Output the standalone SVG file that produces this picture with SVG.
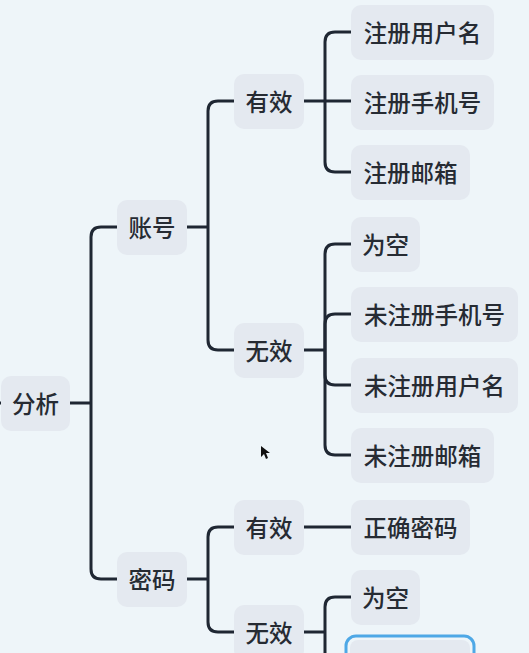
<svg xmlns="http://www.w3.org/2000/svg" width="529" height="653" viewBox="0 0 529 653">
<style>
.n rect{fill:#e4e9f0}
.n text{font-family:"Noto Sans CJK SC","Noto Sans",sans-serif;font-size:23.5px;font-weight:500;fill:#262b33;text-anchor:middle;dominant-baseline:central}
.c path{fill:none;stroke:#1f2733;stroke-width:3;stroke-linecap:butt}
</style>
<rect width="529" height="653" fill="#eef5f9"/>
<g id="connectors" class="c">
<path d="M-5,403 H1"/>
<path d="M70,403 H91"/>
<path d="M91,403 V237 Q91,227 101,227 H117"/>
<path d="M91,403 V569 Q91,579 101,579 H117"/>
<path d="M187,227 H208"/>
<path d="M208,227 V111 Q208,101 218,101 H234"/>
<path d="M208,227 V340 Q208,350 218,350 H234"/>
<path d="M304,101 H325"/>
<path d="M325,101 V42 Q325,32 335,32 H351"/>
<path d="M325,101 H351"/>
<path d="M325,101 V162 Q325,172 335,172 H351"/>
<path d="M304,350 H325"/>
<path d="M325,350 V254 Q325,244 335,244 H351"/>
<path d="M325,350 V324 Q325,314 335,314 H351"/>
<path d="M325,350 V375 Q325,385 335,385 H351"/>
<path d="M325,350 V445 Q325,455 335,455 H351"/>
<path d="M187,579 H208"/>
<path d="M208,579 V537 Q208,527 218,527 H234"/>
<path d="M208,579 V622 Q208,632 218,632 H234"/>
<path d="M304,527 H351"/>
<path d="M304,632 H325"/>
<path d="M325,632 V607 Q325,597 335,597 H351"/>
<path d="M325,632 V656 Q325,666 335,666 H349"/>
</g>
<g id="n-fenxi" class="n"><rect x="1" y="376" width="69" height="55" rx="10"/><text x="35.5" y="403">分析</text></g>
<g id="n-zhanghao" class="n"><rect x="117" y="200" width="70" height="55" rx="10"/><text x="152" y="227">账号</text></g>
<g id="n-mima" class="n"><rect x="117" y="552" width="70" height="55" rx="10"/><text x="152" y="579">密码</text></g>
<g id="n-youxiao1" class="n"><rect x="234" y="74" width="70" height="55" rx="10"/><text x="269" y="101">有效</text></g>
<g id="n-wuxiao1" class="n"><rect x="234" y="323" width="70" height="55" rx="10"/><text x="269" y="350">无效</text></g>
<g id="n-youxiao2" class="n"><rect x="234" y="500" width="70" height="55" rx="10"/><text x="269" y="527">有效</text></g>
<g id="n-wuxiao2" class="n"><rect x="234" y="605" width="70" height="55" rx="10"/><text x="269" y="632">无效</text></g>
<g id="n-zcyhm" class="n"><rect x="351" y="5" width="143" height="55" rx="10"/><text x="422.5" y="32">注册用户名</text></g>
<g id="n-zcsjh" class="n"><rect x="351" y="75" width="143" height="55" rx="10"/><text x="422.5" y="102">注册手机号</text></g>
<g id="n-zcyx" class="n"><rect x="351" y="145" width="119" height="55" rx="10"/><text x="410.5" y="172">注册邮箱</text></g>
<g id="n-wk1" class="n"><rect x="351" y="217" width="69" height="55" rx="10"/><text x="385.5" y="244">为空</text></g>
<g id="n-wzcsjh" class="n"><rect x="351" y="287" width="167" height="55" rx="10"/><text x="434.5" y="314">未注册手机号</text></g>
<g id="n-wzcyhm" class="n"><rect x="351" y="358" width="167" height="55" rx="10"/><text x="434.5" y="385">未注册用户名</text></g>
<g id="n-wzcyx" class="n"><rect x="351" y="428" width="143" height="55" rx="10"/><text x="422.5" y="455">未注册邮箱</text></g>
<g id="n-zqmm" class="n"><rect x="351" y="500" width="119" height="55" rx="10"/><text x="410.5" y="527">正确密码</text></g>
<g id="n-wk2" class="n"><rect x="351" y="570" width="69" height="55" rx="10"/><text x="385.5" y="597">为空</text></g>
<g id="n-selected" class="n"><rect x="346" y="636" width="128" height="60" rx="10" fill="none" stroke="#4ea8e6" stroke-width="3" style="fill:none"/><rect x="350" y="640" width="120" height="52" rx="8"/></g>
<polygon points="261,446 261,457 264,454 266,459 268,458 266,453 270,453" fill="#111"/>
</svg>
